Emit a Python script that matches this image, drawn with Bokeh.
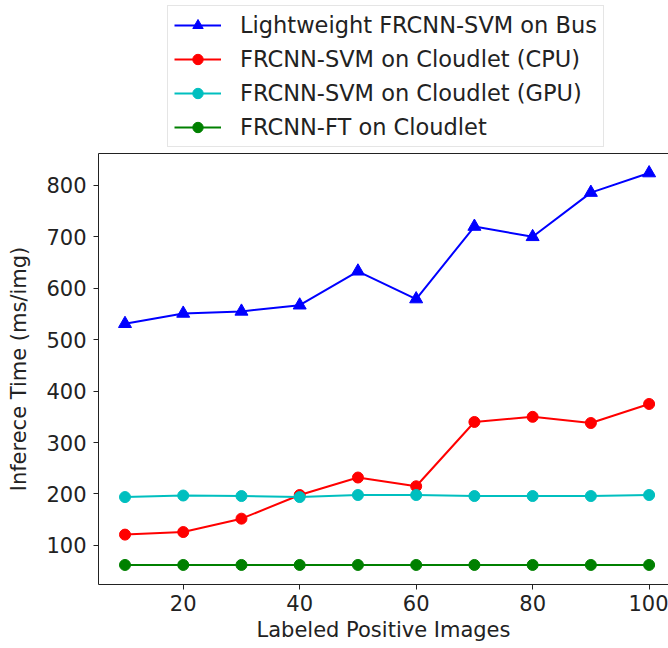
from bokeh.plotting import figure
from bokeh.models import Range1d, LinearAxis, Legend, LegendItem, FixedTicker
from bokeh.layouts import column
from bokeh.embed import file_html
from bokeh.resources import INLINE

labeled_images = [10, 20, 30, 40, 50, 60, 70, 80, 90, 100]
bus_svm = [531, 551, 555, 567, 633, 579, 720, 700, 786, 824]
cloud_cpu = [121, 126, 152, 198, 232, 215, 340, 350, 338, 375]
cloud_gpu = [194, 197, 196, 194, 198, 198, 196, 196, 196, 198]
cloud_ft = [62, 62, 62, 62, 62, 62, 62, 62, 62, 62]

x_ticks = [20, 40, 60, 80, 100]
y_ticks = [100, 200, 300, 400, 500, 600, 700, 800]

series_names = [
    "Lightweight FRCNN-SVM on Bus",
    "FRCNN-SVM on Cloudlet (CPU)",
    "FRCNN-SVM on Cloudlet (GPU)",
    "FRCNN-FT on Cloudlet",
]
series_values = [bus_svm, cloud_cpu, cloud_gpu, cloud_ft]
series_colors = ["#0000ff", "#ff0000", "#00bfbf", "#008000"]
series_markers = ["triangle", "circle", "circle", "circle"]
series_sizes = [13, 11, 11, 11]

FONT = "DejaVu Sans"
TOP_H = 153

p = figure(width=668, height=648 - TOP_H, output_backend="svg", toolbar_location=None,
           x_range=Range1d(5.45, 103.33), y_range=Range1d(24, 862),
           min_border_left=98, min_border_right=0, min_border_top=0,
           min_border_bottom=64)
p.outline_line_color = None
p.grid.visible = False
p.background_fill_color = "white"
p.border_fill_color = "white"

for ax in (p.xaxis[0], p.yaxis[0]):
    ax.major_label_text_font = FONT
    ax.major_label_text_font_size = "21px"
    ax.major_label_text_color = "#222222"
    ax.axis_label_text_font = FONT
    ax.axis_label_text_font_size = "21px"
    ax.axis_label_text_font_style = "normal"
    ax.axis_label_text_color = "#222222"
    ax.minor_tick_line_color = None
    ax.major_tick_in = 0
    ax.major_tick_out = 5
    ax.axis_line_color = "#222222"
    ax.major_tick_line_color = "#222222"

p.xaxis[0].ticker = FixedTicker(ticks=x_ticks)
p.yaxis[0].ticker = FixedTicker(ticks=y_ticks)
p.xaxis[0].axis_label = "Labeled Positive Images"
p.yaxis[0].axis_label = "Inferece Time (ms/img)"
p.xaxis[0].major_label_standoff = 5
p.xaxis[0].axis_label_standoff = 4
p.yaxis[0].major_label_standoff = 7
p.yaxis[0].axis_label_standoff = 12

top = LinearAxis(ticker=FixedTicker(ticks=[]), major_label_text_font_size="0px",
                 major_label_standoff=0, major_tick_out=0, major_tick_in=0,
                 major_tick_line_color=None, minor_tick_line_color=None,
                 axis_line_color="#222222")
p.add_layout(top, "above")

# legend-only figure on top (its own copies of the series, kept out of view)
lg = figure(width=668, height=TOP_H, output_backend="svg", toolbar_location=None,
            x_range=Range1d(-1000, -999), y_range=Range1d(-1000, -999),
            x_axis_type=None, y_axis_type=None,
            min_border_left=0, min_border_right=0, min_border_top=0,
            min_border_bottom=0)
lg.outline_line_color = None
lg.grid.visible = False
lg.background_fill_color = "white"
lg.border_fill_color = "white"

items = []
for name, vals, col, mk, sz in zip(series_names, series_values, series_colors,
                                   series_markers, series_sizes):
    p.line(labeled_images, vals, line_color=col, line_width=2)
    p.scatter(labeled_images, vals, marker=mk, size=sz, fill_color=col, line_color=col)
    ll = lg.line(labeled_images, vals, line_color=col, line_width=2)
    mm = lg.scatter(labeled_images, vals, marker=mk, size=sz, fill_color=col, line_color=col)
    items.append(LegendItem(label=name, renderers=[ll, mm]))

legend = Legend(items=items, location=(69, 6),
                label_text_font=FONT, label_text_font_size="22.5px",
                label_text_color="#222222",
                glyph_width=47, glyph_height=26, label_height=26,
                label_standoff=19, spacing=8, padding=6, margin=0,
                border_line_color="#cccccc", border_line_width=1,
                background_fill_color="white", background_fill_alpha=1.0)
lg.add_layout(legend, "center")

layout = column(lg, p, spacing=0)
open("out.html", "w").write(file_html(layout, INLINE))
